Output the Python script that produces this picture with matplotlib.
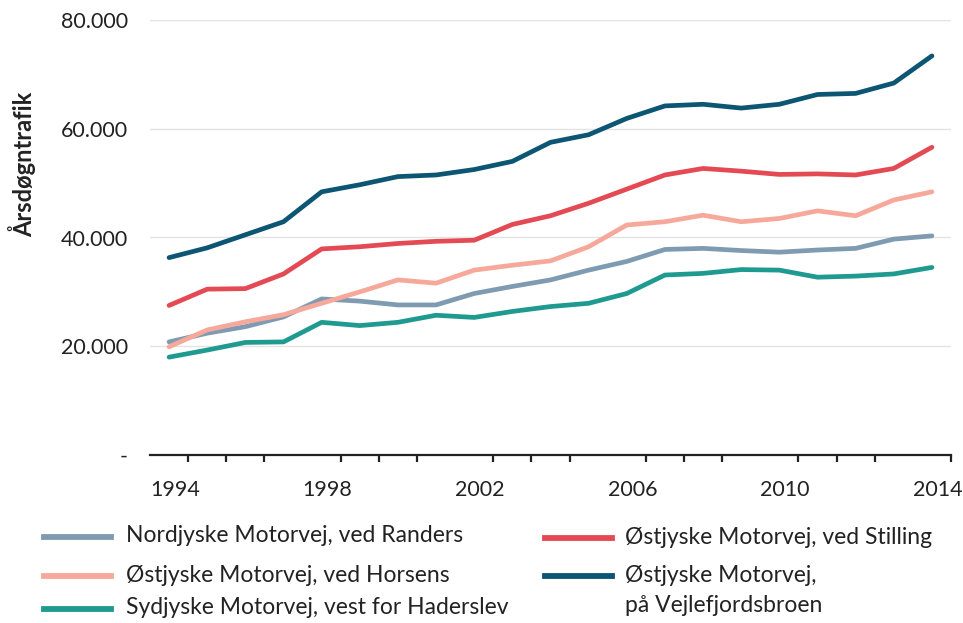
import numpy as np
import matplotlib.pyplot as plt
from matplotlib.lines import Line2D
from matplotlib.ticker import FixedLocator, FuncFormatter

plt.rcParams['font.family'] = ['Lato', 'DejaVu Sans']

years = np.arange(1994, 2015)

randers = [20800, 22400, 23600, 25400, 28700, 28300, 27600, 27600, 29700, 31000,
           32200, 34000, 35600, 37800, 38000, 37600, 37300, 37700, 38000, 39700, 40300]
horsens = [19900, 23000, 24500, 25800, 27900, 30000, 32200, 31600, 34000, 34900,
           35700, 38300, 42300, 42900, 44100, 42900, 43500, 44900, 44000, 46900, 48400]
haderslev = [18000, 19300, 20700, 20800, 24400, 23800, 24400, 25700, 25300, 26400,
             27300, 27900, 29700, 33100, 33400, 34100, 34000, 32700, 32900, 33300, 34500]
stilling = [27500, 30500, 30600, 33300, 37900, 38300, 38900, 39300, 39500, 42400,
            44000, 46300, 48900, 51500, 52700, 52200, 51600, 51700, 51500, 52700, 56600]
vejle = [36300, 38100, 40500, 42900, 48400, 49700, 51200, 51500, 52500, 54000,
         57500, 58900, 61900, 64200, 64500, 63800, 64500, 66300, 66500, 68400, 73400]

series = [
    ("Nordjyske Motorvej, ved Randers", randers, "#7f9bb1"),
    ("Østjyske Motorvej, ved Horsens", horsens, "#f6a99b"),
    ("Sydjyske Motorvej, vest for Haderslev", haderslev, "#1f9a90"),
    ("Østjyske Motorvej, ved Stilling", stilling, "#e34a53"),
    ("Østjyske Motorvej,\npå Vejlefjordsbroen", vejle, "#0c5673"),
]

FS = 16.5
TXT = "#222222"

fig = plt.figure(figsize=(9.63, 6.23), dpi=100)
ax = fig.add_axes([150 / 963, 1 - 455 / 623, 801 / 963, 435 / 623])

for label, vals, col in series:
    ax.plot(years, vals, color=col, lw=3.4, solid_capstyle="round", zorder=3)

ax.set_xlim(1993.5, 2014.5)
ax.set_ylim(0, 80000)

# grid
ax.set_yticks([0, 20000, 40000, 60000, 80000])
ax.yaxis.set_major_formatter(FuncFormatter(
    lambda v, p: "-" if v == 0 else f"{int(v):,}".replace(",", ".")))
for v in [20000, 40000, 60000, 80000]:
    ax.axhline(v, color="#e3e3e3", lw=1.0, zorder=1)
ax.tick_params(axis="y", length=0, pad=16, labelsize=15.5, labelcolor=TXT)

# x axis: boundary ticks, labels every 4 years
ax.xaxis.set_minor_locator(FixedLocator(np.arange(1993.5, 2015, 1.0)))
ax.set_xticks(years[::4] - 0.5)
ax.set_xticklabels([str(y) for y in years[::4]], ha="left")
ax.tick_params(axis="x", which="major", length=0, pad=18, labelsize=15.5,
               labelcolor=TXT)
ax.tick_params(axis="x", which="minor", length=5, width=1.6, direction="out",
               color=TXT)

for s in ["top", "right", "left"]:
    ax.spines[s].set_visible(False)
ax.spines["bottom"].set_color(TXT)
ax.spines["bottom"].set_linewidth(1.6)

fig.text(22 / 963, 1 - 164 / 623, "Årsdøgntrafik", rotation=90, ha="center",
         va="center", fontsize=17, fontweight="bold", color=TXT)

# legend, drawn by hand so the two-line entry keeps its handle on the first line
pos = [(44, 126, 537), (44, 126, 576), (44, 126, 609), (545, 625, 538), (545, 625, 576)]
for (label, vals, col), (hx, tx, yy) in zip(series, pos):
    fy = 1 - yy / 623
    fig.add_artist(Line2D([hx / 963, (hx + 67) / 963], [fy, fy], color=col, lw=4.2))
    lines = label.split("\n")
    fig.text(tx / 963, 1 - (yy - 1) / 623, lines[0], ha="left", va="center",
             fontsize=FS, color=TXT)
    if len(lines) > 1:
        fig.text(tx / 963, 1 - 606 / 623, lines[1], ha="left", va="center",
                 fontsize=FS, color=TXT)

fig.savefig("out.png", dpi=100)
